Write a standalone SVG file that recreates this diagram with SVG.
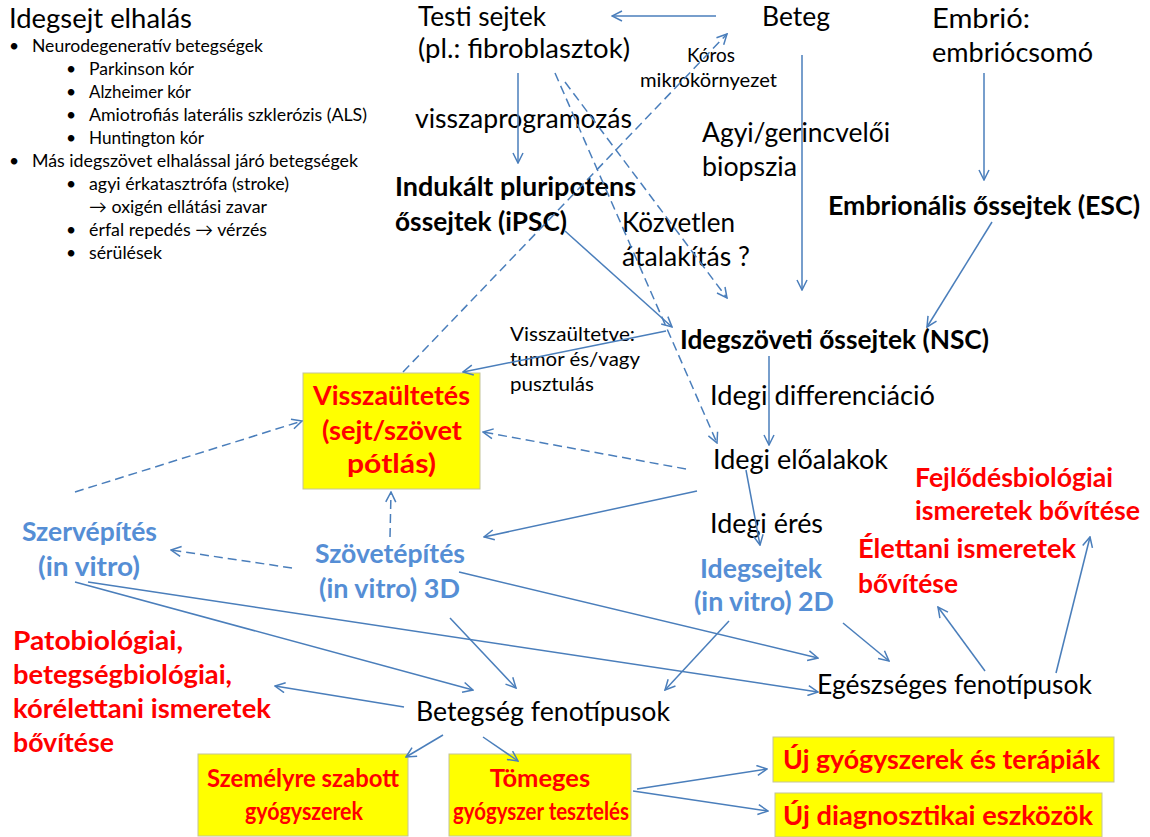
<svg xmlns="http://www.w3.org/2000/svg" width="1150" height="837" viewBox="0 0 1150 837">
<style>
text{font-family:Lato,"Liberation Sans",sans-serif;fill:#000}
.big{font-size:27px}
.list{font-size:17.5px}
.sm{font-size:20px}
.b{font-weight:bold;font-size:26.5px}
.red{font-weight:bold;font-size:26.5px;fill:#ff0000}
.blue{font-weight:bold;font-size:26.5px;fill:#558ed5}
.bx{font-weight:bold;font-size:25.5px;fill:#ff0000}
.box{fill:#ffff00;stroke:#c4c49a;stroke-width:1}
.c{stroke:#4a7ebb;stroke-width:1.5;fill:none;marker-end:url(#ah)}
.d{stroke:#4a7ebb;stroke-width:1.5;fill:none;stroke-dasharray:9,5;marker-end:url(#ah)}
</style>
<defs>
<marker id="ah" viewBox="0 0 12 12" refX="11" refY="6" markerWidth="12" markerHeight="12" markerUnits="userSpaceOnUse" orient="auto">
<path d="M1,1 L11,6 L1,11" fill="none" stroke="#4a7ebb" stroke-width="1.5"/>
</marker>
</defs>
<rect width="1150" height="837" fill="#fff"/>

<g id="list">
<text class="big" x="9" y="28" textLength="183" lengthAdjust="spacingAndGlyphs">Idegsejt elhalás</text>
<text class="list" x="9" y="52">•</text><text class="list" x="32" y="52" textLength="231" lengthAdjust="spacingAndGlyphs">Neurodegeneratív betegségek</text>
<text class="list" x="66" y="75">•</text><text class="list" x="89" y="75" textLength="105" lengthAdjust="spacingAndGlyphs">Parkinson kór</text>
<text class="list" x="66" y="98">•</text><text class="list" x="89" y="98" textLength="102" lengthAdjust="spacingAndGlyphs">Alzheimer kór</text>
<text class="list" x="66" y="121">•</text><text class="list" x="89" y="121" textLength="278" lengthAdjust="spacingAndGlyphs">Amiotrofiás laterális szklerózis (ALS)</text>
<text class="list" x="66" y="144">•</text><text class="list" x="89" y="144" textLength="115" lengthAdjust="spacingAndGlyphs">Huntington kór</text>
<text class="list" x="9" y="167">•</text><text class="list" x="32" y="167" textLength="326" lengthAdjust="spacingAndGlyphs">Más idegszövet elhalással járó betegségek</text>
<text class="list" x="66" y="190">•</text><text class="list" x="89" y="190" textLength="200" lengthAdjust="spacingAndGlyphs">agyi érkatasztrófa (stroke)</text>
<text class="list" x="89" y="213" textLength="178" lengthAdjust="spacingAndGlyphs">→ oxigén ellátási zavar</text>
<text class="list" x="66" y="236">•</text><text class="list" x="89" y="236" textLength="178" lengthAdjust="spacingAndGlyphs">érfal repedés → vérzés</text>
<text class="list" x="66" y="259">•</text><text class="list" x="89" y="259" textLength="73" lengthAdjust="spacingAndGlyphs">sérülések</text>
</g>

<g id="testi"><text class="big" x="418" y="26" textLength="128" lengthAdjust="spacingAndGlyphs">Testi sejtek</text><text class="big" x="418" y="58" textLength="212" lengthAdjust="spacingAndGlyphs">(pl.: fibroblasztok)</text></g>
<g id="beteg"><text class="big" x="762" y="26" textLength="68" lengthAdjust="spacingAndGlyphs">Beteg</text></g>
<g id="embrio"><text class="big" x="932" y="28" textLength="98" lengthAdjust="spacingAndGlyphs">Embrió:</text><text class="big" x="932" y="62" textLength="161" lengthAdjust="spacingAndGlyphs">embriócsomó</text></g>
<g id="ipsc"><text class="b" x="395" y="196" textLength="241" lengthAdjust="spacingAndGlyphs">Indukált pluripotens</text><text class="b" x="395" y="231" textLength="172" lengthAdjust="spacingAndGlyphs">őssejtek (iPSC)</text></g>
<g id="esc"><text class="b" x="828" y="215" textLength="312" lengthAdjust="spacingAndGlyphs">Embrionális őssejtek (ESC)</text></g>
<g id="nsc"><text class="b" x="680" y="349" textLength="309" lengthAdjust="spacingAndGlyphs">Idegszöveti őssejtek (NSC)</text></g>
<g id="eloalakok"><text class="big" x="713" y="469" textLength="175" lengthAdjust="spacingAndGlyphs">Idegi előalakok</text></g>
<g id="idegsejtek"><text class="blue" x="700" y="578" textLength="122" lengthAdjust="spacingAndGlyphs">Idegsejtek</text><text class="blue" x="694" y="611" textLength="140" lengthAdjust="spacingAndGlyphs">(in vitro) 2D</text></g>
<g id="szovet"><text class="blue" x="315" y="563" textLength="150" lengthAdjust="spacingAndGlyphs">Szövetépítés</text><text class="blue" x="319" y="598" textLength="141" lengthAdjust="spacingAndGlyphs">(in vitro) 3D</text></g>
<g id="szerv"><text class="blue" x="22" y="541" textLength="135" lengthAdjust="spacingAndGlyphs">Szervépítés</text><text class="blue" x="38" y="576" textLength="102" lengthAdjust="spacingAndGlyphs">(in vitro)</text></g>
<g id="visszaultetes"><rect class="box" x="303" y="373" width="177" height="116"/>
<text class="red" x="313" y="405" textLength="157" lengthAdjust="spacingAndGlyphs">Visszaültetés</text><text class="red" x="322" y="440" textLength="140" lengthAdjust="spacingAndGlyphs">(sejt/szövet</text><text class="red" x="347" y="473" textLength="89" lengthAdjust="spacingAndGlyphs">pótlás)</text></g>
<g id="fejlodes"><text class="red" x="915" y="487" textLength="198" lengthAdjust="spacingAndGlyphs">Fejlődésbiológiai</text><text class="red" x="915" y="520" textLength="225" lengthAdjust="spacingAndGlyphs">ismeretek bővítése</text></g>
<g id="elettani"><text class="red" x="858" y="558" textLength="218" lengthAdjust="spacingAndGlyphs">Élettani ismeretek</text><text class="red" x="858" y="593" textLength="100" lengthAdjust="spacingAndGlyphs">bővítése</text></g>
<g id="egeszseges"><text class="big" x="817" y="694" textLength="275" lengthAdjust="spacingAndGlyphs">Egészséges fenotípusok</text></g>
<g id="pato"><text class="red" x="13" y="650" textLength="170" lengthAdjust="spacingAndGlyphs">Patobiológiai,</text><text class="red" x="13" y="684" textLength="219" lengthAdjust="spacingAndGlyphs">betegségbiológiai,</text><text class="red" x="13" y="718" textLength="258" lengthAdjust="spacingAndGlyphs">kórélettani ismeretek</text><text class="red" x="13" y="752" textLength="101" lengthAdjust="spacingAndGlyphs">bővítése</text></g>
<g id="betegseg"><text class="big" x="416" y="721" textLength="254" lengthAdjust="spacingAndGlyphs">Betegség fenotípusok</text></g>
<g id="szemelyre"><rect class="box" x="198" y="754" width="210" height="82"/><text class="bx" x="207" y="787" textLength="192" lengthAdjust="spacingAndGlyphs">Személyre szabott</text><text class="bx" x="245" y="820" textLength="118" lengthAdjust="spacingAndGlyphs">gyógyszerek</text></g>
<g id="tomeges"><rect class="box" x="449" y="754" width="182" height="82"/><text class="bx" x="540" y="787" text-anchor="middle">Tömeges</text><text class="bx" x="453" y="820" textLength="176" lengthAdjust="spacingAndGlyphs">gyógyszer tesztelés</text></g>
<g id="ujgyogy"><rect class="box" x="773" y="737" width="341" height="45"/><text class="red" x="783" y="769" textLength="317" lengthAdjust="spacingAndGlyphs">Új gyógyszerek és terápiák</text></g>
<g id="ujdiag"><rect class="box" x="775" y="793" width="327" height="44"/><text class="red" x="783" y="825" textLength="310" lengthAdjust="spacingAndGlyphs">Új diagnosztikai eszközök</text></g>

<g id="labels">
<text class="sm" x="687" y="62" textLength="48" lengthAdjust="spacingAndGlyphs">Kóros</text>
<text class="sm" x="640" y="87" textLength="137" lengthAdjust="spacingAndGlyphs">mikrokörnyezet</text>
<text class="big" x="415" y="128" textLength="217" lengthAdjust="spacingAndGlyphs">visszaprogramozás</text>
<text class="big" x="702" y="142" textLength="188" lengthAdjust="spacingAndGlyphs">Agyi/gerincvelői</text>
<text class="big" x="702" y="176" textLength="95" lengthAdjust="spacingAndGlyphs">biopszia</text>
<text class="big" x="622" y="232" textLength="113" lengthAdjust="spacingAndGlyphs">Közvetlen</text>
<text class="big" x="622" y="266" textLength="128" lengthAdjust="spacingAndGlyphs">átalakítás ?</text>
<text class="sm" x="510" y="341" textLength="125" lengthAdjust="spacingAndGlyphs">Visszaültetve:</text>
<text class="sm" x="510" y="366" textLength="130" lengthAdjust="spacingAndGlyphs">tumor és/vagy</text>
<text class="sm" x="510" y="391" textLength="84" lengthAdjust="spacingAndGlyphs">pusztulás</text>
<text class="big" x="710" y="405" textLength="225" lengthAdjust="spacingAndGlyphs">Idegi differenciáció</text>
<text class="big" x="710" y="533" textLength="113" lengthAdjust="spacingAndGlyphs">Idegi érés</text>
</g>

<g id="connectors">
<line class="c" x1="716" y1="16" x2="612" y2="16"/>
<line class="c" x1="518" y1="73" x2="518" y2="163"/>
<line class="c" x1="802" y1="55" x2="802" y2="290"/>
<line class="c" x1="984" y1="73" x2="984" y2="180"/>
<line class="c" x1="992" y1="222" x2="927" y2="327"/>
<line class="c" x1="565" y1="231" x2="672" y2="327"/>
<line class="c" x1="666" y1="331" x2="463" y2="372"/>
<line class="c" x1="769" y1="356" x2="769" y2="445"/>
<line class="c" x1="746" y1="470" x2="760" y2="545"/>
<line class="c" x1="697" y1="491" x2="484" y2="537"/>
<line class="c" x1="459" y1="572" x2="818" y2="658"/>
<line class="c" x1="88" y1="582" x2="818" y2="692"/>
<line class="c" x1="75" y1="582" x2="473" y2="690"/>
<line class="c" x1="450" y1="618" x2="516" y2="688"/>
<line class="c" x1="729" y1="621" x2="665" y2="690"/>
<line class="c" x1="843" y1="623" x2="889" y2="661"/>
<line class="c" x1="985" y1="671" x2="938" y2="607"/>
<line class="c" x1="1056" y1="673" x2="1090" y2="537"/>
<line class="c" x1="404" y1="707" x2="275" y2="686"/>
<line class="c" x1="443" y1="735" x2="406" y2="757"/>
<line class="c" x1="483" y1="737" x2="518" y2="761"/>
<line class="c" x1="637" y1="789" x2="767" y2="769"/>
<line class="c" x1="633" y1="791" x2="768" y2="811"/>
<line class="d" x1="75" y1="492" x2="302" y2="421"/>
<line class="d" x1="390" y1="537" x2="391" y2="492"/>
<line class="d" x1="292" y1="568" x2="171" y2="550"/>
<line class="d" x1="686" y1="469" x2="483" y2="432"/>
<line class="d" x1="403" y1="372" x2="727" y2="34"/>
<line class="d" x1="555" y1="73" x2="717" y2="443"/>
<line class="d" x1="565" y1="82" x2="727" y2="298"/>
</g>
</svg>
